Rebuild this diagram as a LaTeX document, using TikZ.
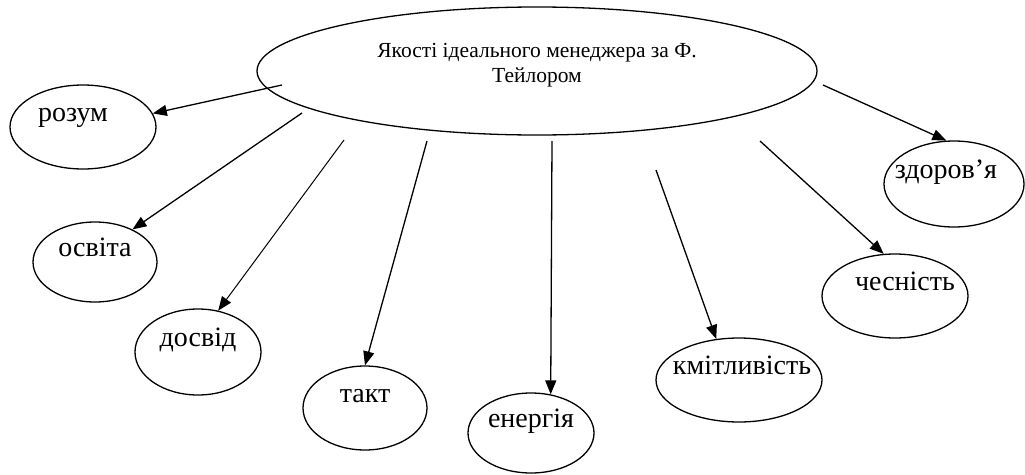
\documentclass[tikz,border=0pt]{standalone}
\usepackage{fontspec}
\setmainfont{Liberation Serif}
\usetikzlibrary{arrows.meta,shapes.geometric}
\newcommand\hubfont{\fontsize{21.5}{25}\selectfont}
\newcommand\traitfont{\fontsize{28}{30}\selectfont}
% zero-width label, optionally shifted sideways
\newcommand\tname[2][0pt]{\makebox[0pt]{\hspace{#1}#2\hspace{-#1}}}
\tikzset{
 hub/.style={ellipse,draw,line width=1.3pt,inner sep=0pt,minimum width=560pt,
   minimum height=128pt,align=center,font=\hubfont,text height=40pt,text depth=18pt},
 trait/.style={ellipse,draw,line width=1.3pt,inner sep=0pt,font=\traitfont,
   text height=12pt,text depth=24pt},
 arr/.style={-{Triangle[length=14pt,width=11pt]},line width=1.3pt}
}

\begin{document}
\begin{tikzpicture}[x=1pt,y=-1pt]
\useasboundingbox (0,0) rectangle (1025,474);
\node[hub] (hub) at (537,71) {Якості ідеального менеджера за Ф.\\Тейлором};
\node[trait,minimum width=146pt,minimum height=84pt] (rozum) at (83,127) {\tname[-10pt]{розум}};
\node[trait,minimum width=124pt,minimum height=80pt] (osvita) at (95,262) {\tname{освіта}};
\node[trait,minimum width=126pt,minimum height=86pt] (dosvid) at (198,352) {\tname{досвід}};
\node[trait,minimum width=124pt,minimum height=84pt] (takt) at (365,408) {\tname{такт}};
\node[trait,minimum width=126pt,minimum height=80pt] (energy) at (531,433) {\tname{енергія}};
\node[trait,minimum width=166pt,minimum height=84pt] (kmit) at (739,380) {\tname[3pt]{кмітливість}};
\node[trait,minimum width=146pt,minimum height=84pt] (chesn) at (895,296) {\tname[10pt]{чесність}};
\node[trait,minimum width=140pt,minimum height=86pt] (zdorov) at (954,184) {\tname[-8pt]{здоров’я}};
% start points under the big ellipse
\coordinate (s-rozum) at (282,85);
\coordinate (s-osvita) at (302,113);
\coordinate (s-dosvid) at (344,140);
\coordinate (s-takt) at (427,141);
\coordinate (s-energy) at (552,141);
\coordinate (s-kmit) at (656,170);
\coordinate (s-chesn) at (760,141);
\coordinate (s-zdorov) at (823,85);
\draw[arr] (s-rozum)--(rozum.11);
\draw[arr] (s-osvita)--(osvita.41);
\draw[arr,line width=1pt] (s-dosvid)--(dosvid.64);
\draw[arr] (s-takt)--(takt.90);
\draw[arr] (s-energy)--(energy.63);
\draw[arr] (s-kmit)--(kmit.119);
\draw[arr] (s-chesn)--(chesn.105);
\draw[arr] (s-zdorov)--(zdorov.100);
\end{tikzpicture}
\end{document}
